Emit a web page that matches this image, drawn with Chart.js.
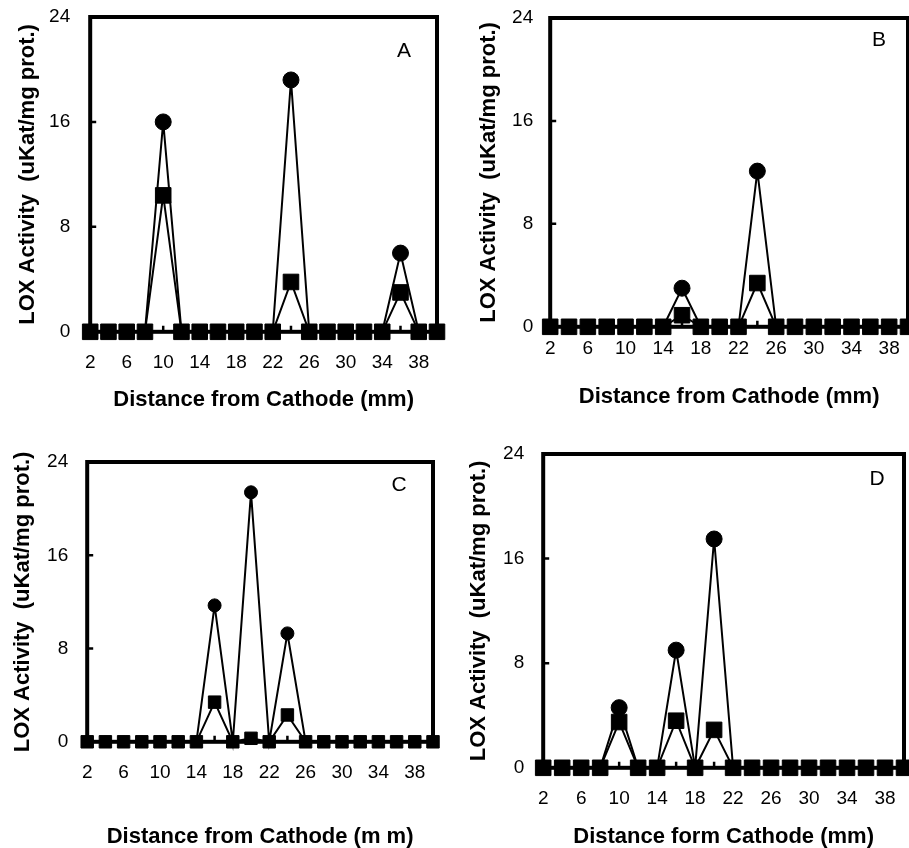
<!DOCTYPE html>
<html>
<head>
<meta charset="utf-8">
<script src="https://cdn.jsdelivr.net/npm/chart.js@4.4.1/dist/chart.umd.min.js"></script>
<style>
  html, body { margin: 0; padding: 0; background: #fff; }
  body { width: 909px; height: 848px; overflow: hidden; position: relative; }
  canvas { position: absolute; }
</style>
</head>
<body>
<canvas id="panelA"></canvas>
<canvas id="panelB"></canvas>
<canvas id="panelC"></canvas>
<canvas id="panelD"></canvas>
<script>
// distance from cathode (mm), one fraction every 2 mm
const distance = [2, 4, 6, 8, 10, 12, 14, 16, 18, 20, 22, 24, 26, 28, 30, 32, 34, 36, 38, 40];
const xTickLabels = [2, 6, 10, 14, 18, 22, 26, 30, 34, 38];
const yTickLabels = [0, 8, 16, 24];

// LOX activity (uKat/mg prot.)
const circleA = [0, 0, 0, 0, 16, 0, 0, 0, 0, 0, 0, 19.2, 0, 0, 0, 0, 0, 6.0, 0, 0];
const squareA = [0, 0, 0, 0, 10.4, 0, 0, 0, 0, 0, 0, 3.8, 0, 0, 0, 0, 0, 3.0, 0, 0];
const circleB = [0, 0, 0, 0, 0, 0, 0, 3.0, 0, 0, 0, 12.1, 0, 0, 0, 0, 0, 0, 0, 0];
const squareB = [0, 0, 0, 0, 0, 0, 0, 0.9, 0, 0, 0, 3.4, 0, 0, 0, 0, 0, 0, 0, 0];
const circleC = [0, 0, 0, 0, 0, 0, 0, 11.7, 0, 21.4, 0, 9.3, 0, 0, 0, 0, 0, 0, 0, 0];
const squareC = [0, 0, 0, 0, 0, 0, 0, 3.4, 0, 0.3, 0, 2.3, 0, 0, 0, 0, 0, 0, 0, 0];
const circleD = [0, 0, 0, 0, 4.6, 0, 0, 9.0, 0, 17.5, 0, 0, 0, 0, 0, 0, 0, 0, 0, 0];
const squareD = [0, 0, 0, 0, 3.5, 0, 0, 3.6, 0, 2.9, 0, 0, 0, 0, 0, 0, 0, 0, 0, 0];

const yTitle = 'LOX Activity  (uKat/mg prot.)';
const FONT = "'Liberation Sans', Arial, Helvetica, sans-serif";
const TITLE_SIZE = 22;
const TITLE_LH = TITLE_SIZE * 1.2;
const PAD = 14;

// where each plot box sits on the page
const panels = [
  { id: 'panelA', tag: 'A', circle: circleA, square: squareA, xTitle: 'Distance from Cathode (mm)',
    L: 90, R: 437, T: 17, B: 332, yTitleX: 28, xTitleY: 400, xPad: 20, yPad: 20, tagDX: 33, tagDY: 34, big: true },
  { id: 'panelB', tag: 'B', circle: circleB, square: squareB, xTitle: 'Distance from Cathode (mm)',
    L: 550, R: 908, T: 18, B: 327, yTitleX: 489, xTitleY: 397, xPad: 11, yPad: 17, tagDX: 29, tagDY: 22, big: true },
  { id: 'panelC', tag: 'C', circle: circleC, square: squareC, xTitle: 'Distance from Cathode (m m)',
    L: 87, R: 433, T: 462, B: 742, yTitleX: 23, xTitleY: 837, xPad: 20, yPad: 19, tagDX: 34, tagDY: 23, big: false },
  { id: 'panelD', tag: 'D', circle: circleD, square: squareD, xTitle: 'Distance form Cathode (mm)',
    L: 543, R: 904, T: 454, B: 768, yTitleX: 479, xTitleY: 837, xPad: 20, yPad: 19, tagDX: 27, tagDY: 25, big: true }
];

const framePlugin = {
  id: 'frame',
  beforeDatasetsDraw(chart, args, opts) {
    const { ctx, chartArea: a, scales: { x, y } } = chart;
    ctx.save();
    ctx.strokeStyle = '#000';
    ctx.lineWidth = 4;
    ctx.strokeRect(a.left, a.top, a.right - a.left, a.bottom - a.top);
    // small inward tick marks
    ctx.lineWidth = 2.5;
    ctx.beginPath();
    distance.forEach(v => {
      const px = x.getPixelForValue(v);
      ctx.moveTo(px, a.bottom);
      ctx.lineTo(px, a.bottom - 6);
    });
    [8, 16].forEach(v => {
      const py = y.getPixelForValue(v);
      ctx.moveTo(a.left, py);
      ctx.lineTo(a.left + 6, py);
    });
    ctx.stroke();
    ctx.fillStyle = '#000';
    ctx.font = '21px ' + FONT;
    ctx.textAlign = 'center';
    ctx.textBaseline = 'middle';
    ctx.fillText(opts.tag, a.right - opts.dx, a.top + opts.dy);
    ctx.restore();
  }
};

function makePanel(p) {
  const left = p.yTitleX - TITLE_LH / 2;
  const top = p.T - PAD;
  const bottom = p.xTitleY + TITLE_LH / 2;
  const width = p.R + PAD - left;
  const height = bottom - top;
  const yWidth = p.L - left;
  const xHeight = bottom - p.B;

  const canvas = document.getElementById(p.id);
  canvas.width = Math.round(width);
  canvas.height = Math.round(height);
  canvas.style.left = left + 'px';
  canvas.style.top = top + 'px';

  const sq = p.big ? 11 : 8.8;
  const ci = p.big ? 8 : 6.5;

  new Chart(canvas.getContext('2d'), {
    type: 'line',
    data: {
      datasets: [
        {
          data: distance.map((d, i) => ({ x: d, y: p.square[i] })),
          borderColor: '#000', backgroundColor: '#000', borderWidth: 2,
          pointStyle: 'rect', pointRadius: sq, pointBorderWidth: 1,
          pointBackgroundColor: '#000', pointBorderColor: '#000',
          tension: 0, clip: false
        },
        {
          data: distance.map((d, i) => ({ x: d, y: p.circle[i] })),
          borderColor: '#000', backgroundColor: '#000', borderWidth: 2,
          pointStyle: 'circle',
          pointRadius: c => (c.raw && c.raw.y > 0 ? ci : 0),
          pointBorderWidth: 1, pointBackgroundColor: '#000', pointBorderColor: '#000',
          tension: 0, clip: false
        }
      ]
    },
    options: {
      responsive: false,
      animation: false,
      layout: { padding: { left: 0, top: PAD, right: PAD, bottom: 0 } },
      plugins: {
        legend: { display: false },
        tooltip: { enabled: false },
        frame: { tag: p.tag, dx: p.tagDX, dy: p.tagDY }
      },
      scales: {
        x: {
          type: 'linear', min: 2, max: 40,
          afterBuildTicks: s => { s.ticks = xTickLabels.map(v => ({ value: v })); },
          afterFit: s => { s.height = xHeight; s.paddingLeft = 0; s.paddingRight = 0; },
          grid: { display: false, drawTicks: false },
          border: { display: false },
          ticks: { color: '#000', padding: p.xPad, maxRotation: 0, autoSkip: false,
                   font: { family: FONT, size: 19 } },
          title: { display: true, text: p.xTitle, color: '#000', padding: 0,
                   font: { family: FONT, size: TITLE_SIZE, weight: 'bold' } }
        },
        y: {
          min: 0, max: 24,
          afterBuildTicks: s => { s.ticks = yTickLabels.map(v => ({ value: v })); },
          afterFit: s => { s.width = yWidth; s.paddingTop = 0; s.paddingBottom = 0; },
          grid: { display: false, drawTicks: false },
          border: { display: false },
          ticks: { color: '#000', padding: p.yPad, font: { family: FONT, size: 19 } },
          title: { display: true, text: yTitle, color: '#000', padding: 0,
                   font: { family: FONT, size: TITLE_SIZE, weight: 'bold' } }
        }
      }
    },
    plugins: [framePlugin]
  });
}

panels.forEach(makePanel);
</script>
</body>
</html>
